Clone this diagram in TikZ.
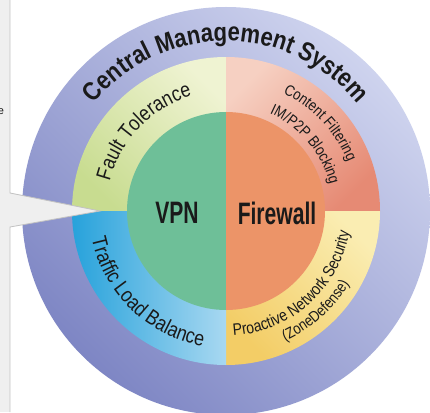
\documentclass[tikz,border=0pt]{standalone}
\usepackage{fontspec}
\setmainfont{Liberation Sans}
\newfontfamily\arcfont{Liberation Sans}[FakeStretch=0.85]
\newfontfamily\corefont{Liberation Sans}[FakeStretch=0.68]
\usetikzlibrary{decorations.text}

\definecolor{panelgray}{HTML}{EFEFEF}
\definecolor{panelline}{HTML}{C2C2C2}
\definecolor{ringdark}{HTML}{7E86C4}
\definecolor{ringlight}{HTML}{CED3EE}
\definecolor{faultlight}{HTML}{EFF3D2}
\definecolor{faultdark}{HTML}{C8DC90}
\definecolor{contentlight}{HTML}{F6D0C2}
\definecolor{contentdark}{HTML}{E68A74}
\definecolor{proactivelight}{HTML}{FAEDB2}
\definecolor{proactivedark}{HTML}{F3CD66}
\definecolor{trafficlight}{HTML}{A8D8F1}
\definecolor{trafficdark}{HTML}{27A2DB}
\definecolor{vpngreen}{HTML}{6EBF98}
\definecolor{firewallorange}{HTML}{EC9468}
\definecolor{textdark}{HTML}{1A1A1A}

\begin{document}
\begin{tikzpicture}[x=1pt,y=1pt,
    arctext/.style={decorate,decoration={text along path,text align=center,text color=textdark,text={#1}}},
    corelabel/.style={text=textdark,inner sep=0,font=\corefont\bfseries\fontsize{31}{31}\selectfont}]
    \pgfmathsetmacro{\outerradius}{204}
    \pgfmathsetmacro{\ringradius}{154}
    \pgfmathsetmacro{\coreradius}{99}
    \pgfmathsetmacro{\panelleft}{-226}
    \pgfmathsetmacro{\panelright}{204}
    \pgfmathsetmacro{\panelbottom}{-201}
    \pgfmathsetmacro{\paneltop}{211}
    \pgfmathsetmacro{\stripedge}{-216}
    \providecommand{\titlefontsize}{\fontsize{26}{26}\selectfont}
    \providecommand{\ringfontsize}{\fontsize{21}{21}\selectfont}
    \providecommand{\smallringfontsize}{\fontsize{15.5}{15.5}\selectfont}
    \providecommand{\securityfontsize}{\fontsize{16.5}{16.5}\selectfont}
    \useasboundingbox (\panelleft,\panelbottom) rectangle (\panelright,\paneltop);
    \fill[white] (\panelleft,\panelbottom) rectangle (\panelright,\paneltop);
    \fill[panelgray] (\panelleft,\panelbottom) rectangle (\stripedge,\paneltop);
    \node[font=\fontsize{11}{11}\selectfont,text=textdark,inner sep=0] (cut) at (\panelleft+1,99) {e};
    % outer ring
    \shade[top color=ringdark,bottom color=ringlight,shading angle=135] (0,0) circle[radius=\outerradius];
    % middle ring
    \shade[top color=faultdark,bottom color=faultlight,shading angle=135] (0,0) -- (90:\ringradius) arc[start angle=90,end angle=180,radius=\ringradius] -- cycle;
    \shade[top color=contentlight,bottom color=contentdark,shading angle=45] (0,0) -- (0:\ringradius) arc[start angle=0,end angle=90,radius=\ringradius] -- cycle;
    \shade[top color=proactivedark,bottom color=proactivelight,shading angle=135] (0,0) -- (270:\ringradius) arc[start angle=270,end angle=360,radius=\ringradius] -- cycle;
    \shade[top color=trafficdark,bottom color=trafficlight,shading angle=90] (0,0) -- (180:\ringradius) arc[start angle=180,end angle=270,radius=\ringradius] -- cycle;
    % core
    \fill[vpngreen] (90:\coreradius) arc[start angle=90,end angle=270,radius=\coreradius] -- cycle;
    \fill[firewallorange] (-90:\coreradius) arc[start angle=-90,end angle=90,radius=\coreradius] -- cycle;
    \node[corelabel] (vpn) at (-49,-2) {VPN};
    \node[corelabel] (firewall) at (51,-2) {Firewall};
    % ring texts
    \path[arctext={|\arcfont\bfseries\titlefontsize|Central Management System}] (150:170) arc[start angle=150,end angle=30,radius=170];
    \path[arctext={|\arcfont\ringfontsize|Fault Tolerance}] (196:120) arc[start angle=196,end angle=76,radius=120];
    \path[arctext={|\arcfont\smallringfontsize|Content Filtering}] (103:131) arc[start angle=103,end angle=-17,radius=131];
    \path[arctext={|\arcfont\smallringfontsize|IM/P2P Blocking}] (100:107) arc[start angle=100,end angle=-20,radius=107];
    \path[arctext={|\arcfont\ringfontsize|Traffic Load Balance}] (166:137) arc[start angle=166,end angle=286,radius=137];
    \path[arctext={|\arcfont\securityfontsize|Proactive Network Security}] (-118:125) arc[start angle=-118,end angle=22,radius=125];
    \path[arctext={|\arcfont\smallringfontsize|(ZoneDefense)}] (-108:143) arc[start angle=-108,end angle=12,radius=143];
    % callout
    \coordinate (tip) at (-126,0);
    \coordinate (wedgetop) at (\stripedge,18);
    \coordinate (wedgebottom) at (\stripedge,-16);
    \fill[panelgray] (\panelleft,18) -- (wedgetop) -- (tip) -- (wedgebottom) -- (\panelleft,-16) -- cycle;
    \draw[panelline,line width=0.8pt] (\stripedge,\paneltop) -- (wedgetop) -- (tip) -- (wedgebottom) -- (\stripedge,\panelbottom);
\end{tikzpicture}
\end{document}
